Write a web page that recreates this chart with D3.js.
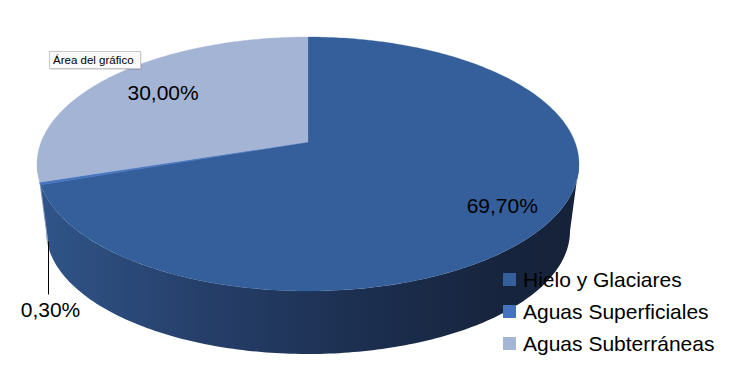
<!DOCTYPE html>
<html>
<head>
<meta charset="utf-8">
<script src="https://cdn.jsdelivr.net/npm/d3@7"></script>
<style>
  html, body { margin: 0; padding: 0; background: #fff; }
  svg { display: block; font-family: "Liberation Sans", Arial, sans-serif; }
</style>
</head>
<body>
<div id="chart"></div>
<script>
const categories = ["Hielo y Glaciares", "Aguas Superficiales", "Aguas Subterráneas"];
const values = [69.7, 0.3, 30.0];
const valueLabels = ["69,70%", "0,30%", "30,00%"];
const topColors = ["#345F9A", "#4674BF", "#A4B4D5"];
const legendColors = ["#345F9A", "#4373BE", "#A5B5D6"];

const W = 732, H = 383;
const cx = 308, cy = 164, rx = 271, ry = 127;
// bottom rim is a bit smaller (further from the camera)
const cyB = 231, rxB = 262, ryB = 123;
// perspective: the pie centre sits above the ellipse centre
const t = -0.173;
const a = Math.atanh(t), ch = Math.cosh(a), sh = Math.sinh(a);

// point on pie plane (unit disk, angle clockwise from 12 o'clock) -> screen
function proj(phi, r = 1) {
  const x = Math.sin(phi) * r, y = -Math.cos(phi) * r;
  const w = y * sh + ch;
  const u = x / w, v = (y * ch + sh) / w;
  return [cx + u * rx, cy + v * ry];
}
// screen ellipse parametric angle (clockwise from top)
function psiOf(phi) {
  const p = proj(phi);
  const u = (p[0] - cx) / rx, v = (p[1] - cy) / ry;
  let s = Math.atan2(u, -v);
  if (s < 0) s += 2 * Math.PI;
  return s;
}
const ellTop = psi => [cx + Math.sin(psi) * rx, cy - Math.cos(psi) * ry];
const ellBot = psi => [cx + Math.sin(psi) * rxB, cyB - Math.cos(psi) * ryB];

const svg = d3.select('#chart').append('svg')
  .attr('width', W).attr('height', H);

const defs = svg.append('defs');
const grad = defs.append('linearGradient')
  .attr('id', 'side0').attr('gradientUnits', 'userSpaceOnUse')
  .attr('x1', 37).attr('x2', 580).attr('y1', 0).attr('y2', 0);
[[0, '#305589'], [0.3, '#263F6A'], [0.6, '#1C2F50'], [0.85, '#17243D'], [1, '#15223A']]
  .forEach(([o, c]) => grad.append('stop').attr('offset', o).attr('stop-color', c));

const sideColors = ['url(#side0)', '#35599A', '#7F8FAE'];

const pie = d3.pie().sort(null).value(d => d)
  .startAngle(0).endAngle(2 * Math.PI);
const arcs = pie(values);

const line = d3.line();
const N = 160;

// sides (front half of the rim: psi in [PI/2, 3PI/2])
const sideG = svg.append('g');
arcs.forEach((d, i) => {
  let p0 = i === 0 ? 0 : psiOf(d.startAngle);
  let p1 = i === arcs.length - 1 ? 2 * Math.PI : psiOf(d.endAngle);
  if (p1 < p0) p1 += 2 * Math.PI;
  const lo = Math.max(p0, Math.PI / 2), hi = Math.min(p1, 3 * Math.PI / 2);
  if (hi <= lo) return;
  const ps = d3.range(N + 1).map(k => lo + (hi - lo) * k / N);
  const topPts = ps.map(ellTop);
  const botPts = ps.slice().reverse().map(ellBot);
  sideG.append('path')
    .attr('d', line(topPts.concat(botPts)) + 'Z')
    .attr('fill', sideColors[i]);
});

// top faces
const topG = svg.append('g');
arcs.forEach((d, i) => {
  const steps = Math.max(4, Math.ceil((d.endAngle - d.startAngle) / (2 * Math.PI) * 400));
  const pts = [proj(0, 0)];
  for (let k = 0; k <= steps; k++) {
    pts.push(proj(d.startAngle + (d.endAngle - d.startAngle) * k / steps));
  }
  topG.append('path')
    .attr('d', line(pts) + 'Z')
    .attr('fill', topColors[i])
    .attr('stroke', topColors[i])
    .attr('stroke-width', i === 1 ? 0.8 : 0.3);
});

// data labels
const labelR = [0.82, null, 0.72];
arcs.forEach((d, i) => {
  const mid = (d.startAngle + d.endAngle) / 2;
  if (labelR[i] != null) {
    const p = proj(mid, labelR[i]);
    svg.append('text')
      .attr('x', p[0]).attr('y', p[1] + 7)
      .attr('text-anchor', 'middle')
      .attr('font-size', 21)
      .attr('fill', '#000')
      .text(valueLabels[i]);
  } else {
    const p = proj(mid);
    const lx = Math.round(p[0]) + 8.5;
    svg.append('line')
      .attr('x1', lx).attr('x2', lx)
      .attr('y1', p[1] + 58).attr('y2', p[1] + 111)
      .attr('stroke', '#000').attr('stroke-width', 1);
    svg.append('text')
      .attr('x', lx + 2).attr('y', p[1] + 134)
      .attr('text-anchor', 'middle')
      .attr('font-size', 21)
      .attr('fill', '#000')
      .text(valueLabels[i]);
  }
});

// legend
const legend = svg.append('g').attr('transform', 'translate(503, 273)');
categories.forEach((c, i) => {
  legend.append('rect')
    .attr('x', 0).attr('y', i * 32)
    .attr('width', 13).attr('height', 13)
    .attr('fill', legendColors[i]);
  legend.append('text')
    .attr('x', 20).attr('y', i * 32 + 14)
    .attr('font-size', 21)
    .attr('fill', '#000')
    .text(c);
});

// tooltip
const tip = svg.append('g').attr('transform', 'translate(49, 51)');
tip.append('rect')
  .attr('x', 1.5).attr('y', 2).attr('width', 91).attr('height', 17)
  .attr('fill', '#000').attr('opacity', 0.12);
tip.append('rect')
  .attr('x', 0.5).attr('y', 0.5).attr('width', 91).attr('height', 17)
  .attr('fill', '#F9F9F9').attr('stroke', '#C8C8C8');
tip.append('text')
  .attr('x', 4).attr('y', 13)
  .attr('font-size', 11.5)
  .attr('fill', '#000')
  .text('Área del gráfico');
</script>
</body>
</html>
